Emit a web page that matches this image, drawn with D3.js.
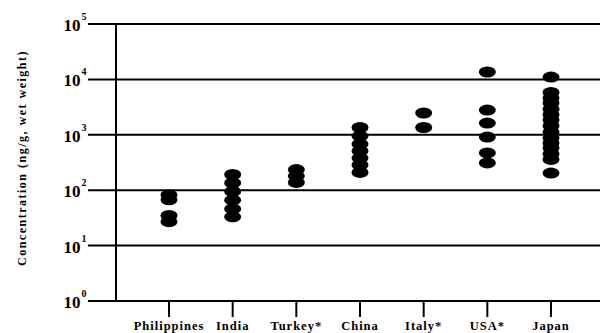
<!DOCTYPE html>
<html><head><meta charset="utf-8">
<script src="https://cdn.jsdelivr.net/npm/d3@7"></script>
<style>html,body{margin:0;padding:0;background:#fff;}svg{display:block;}</style>
</head><body>
<svg id="chart" width="600" height="333"></svg>
<script>
const categories = ["Philippines", "India", "Turkey*", "China", "Italy*", "USA*", "Japan"];
const philippines = [82, 67, 35, 27];
const india = [192, 135, 95, 66, 46, 33];
const turkey = [236, 180, 138];
const china = [1355, 950, 680, 510, 380, 285, 209];
const italy = [2475, 1355];
const usa = [13600, 2800, 1630, 910, 470, 310];
const japan = [11000, 5800, 4600, 3750, 2900, 2300, 1850, 1450, 1120, 880, 710, 580, 450, 360, 204];
const seriesValues = [philippines, india, turkey, china, italy, usa, japan];
const exponents = ["0", "1", "2", "3", "4", "5"];
const yTitle = "Concentration (ng/g, wet weight)";

const svg = d3.select("#chart");
const font = "'Liberation Serif','Times New Roman',serif";
const y = d3.scaleLog().domain([1, 1e5]).range([301, 24]);
const x = d3.scalePoint().domain(categories).range([169, 551]);

// gridlines
const tickVals = exponents.map(e => Math.pow(10, +e));
svg.append("g").selectAll("line").data(tickVals).join("line")
  .attr("x1", 88).attr("x2", 600)
  .attr("y1", d => y(d)).attr("y2", d => y(d))
  .attr("stroke", "#000").attr("stroke-width", 2);

// y axis line
svg.append("line").attr("x1", 116).attr("x2", 116)
  .attr("y1", y(1e5) - 1).attr("y2", y(1) + 1)
  .attr("stroke", "#000").attr("stroke-width", 2);

// y tick labels
const yl = svg.append("g").attr("font-family", font).attr("font-weight", "bold").attr("fill", "#000");
yl.selectAll("text.base").data(tickVals).join("text").attr("class", "base")
  .attr("x", 80.5).attr("y", d => y(d) + 7).attr("text-anchor", "end")
  .attr("font-size", 17).text("10");
yl.selectAll("text.exp").data(exponents).join("text").attr("class", "exp")
  .attr("x", 81.5).attr("y", d => y(Math.pow(10, +d)) - 4)
  .attr("font-size", 10).text(d => d);

// x ticks
svg.append("g").selectAll("line").data(categories).join("line")
  .attr("x1", d => x(d)).attr("x2", d => x(d))
  .attr("y1", 301).attr("y2", 317)
  .attr("stroke", "#000").attr("stroke-width", 2);

// x labels
svg.append("g").selectAll("text").data(categories).join("text")
  .attr("x", d => x(d)).attr("y", 330).attr("text-anchor", "middle")
  .attr("font-family", font).attr("font-weight", "bold").attr("font-size", 12.5)
  .attr("letter-spacing", "1px").text(d => d);

// y title
svg.append("text")
  .attr("transform", "translate(26,158) rotate(-90)")
  .attr("text-anchor", "middle")
  .attr("font-family", font).attr("font-weight", "bold").attr("font-size", 12)
  .attr("letter-spacing", "1.5px").text(yTitle);

// dots
const pts = [];
categories.forEach((c, i) => seriesValues[i].forEach(v => pts.push({c, v})));
svg.append("g").selectAll("ellipse").data(pts).join("ellipse")
  .attr("cx", d => x(d.c)).attr("cy", d => y(d.v))
  .attr("rx", 8.5).attr("ry", 5.5).attr("fill", "#000");
</script>
</body></html>
